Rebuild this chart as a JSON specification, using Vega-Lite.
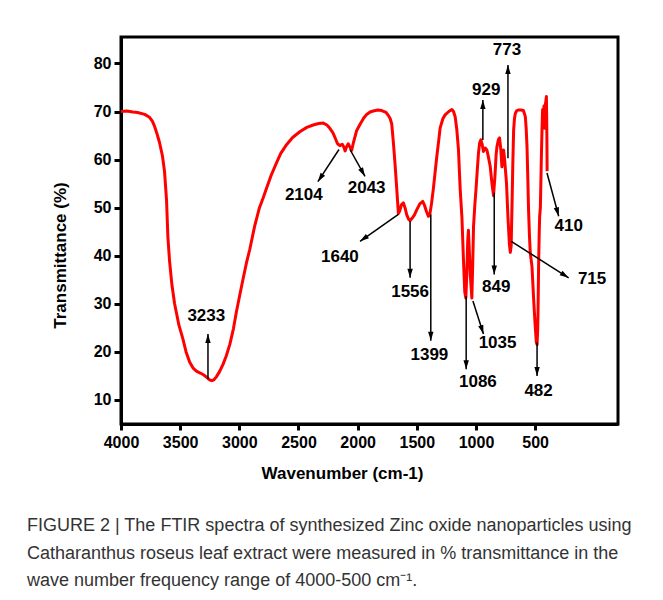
{
  "$schema": "https://vega.github.io/schema/vega-lite/v6.json",
  "width": 497,
  "height": 387,
  "autosize": {"type": "none"},
  "padding": {"left": 121, "top": 37, "right": 45, "bottom": 176},
  "background": "white",
  "config": {
    "font": "Liberation Sans",
    "view": {"stroke": "black", "strokeWidth": 3},
    "axis": {
      "domainColor": "black", "domainWidth": 3, "tickColor": "black", "tickWidth": 3,
      "labelFont": "Liberation Sans", "labelFontWeight": "bold", "labelColor": "black",
      "titleFont": "Liberation Sans", "titleFontWeight": "bold", "titleColor": "black",
      "grid": false
    }
  },
  "title": {
    "text": [
      "FIGURE 2 | The FTIR spectra of synthesized Zinc oxide nanoparticles using",
      "Catharanthus roseus leaf extract were measured in % transmittance in the",
      "wave number frequency range of 4000-500 cm⁻¹."
    ],
    "orient": "bottom", "anchor": "start", "frame": "group", "dx": -94, "offset": 36,
    "font": "Liberation Sans", "fontSize": 18, "fontWeight": "normal", "color": "#333333",
    "lineHeight": 27.5, "baseline": "top"
  },
  "datasets": {
    "spectrum": [
      {"w":4000,"t":70.0},{"w":3950,"t":70.1},{"w":3900,"t":69.9},{"w":3860,"t":69.8},{"w":3800,"t":69.4},
      {"w":3759,"t":68.8},{"w":3735,"t":68.0},{"w":3716,"t":66.9},{"w":3695,"t":65.3},{"w":3674,"t":63.5},
      {"w":3650,"t":60.8},{"w":3632,"t":57.5},{"w":3615,"t":51.5},{"w":3604,"t":44.0},{"w":3590,"t":39.0},
      {"w":3570,"t":34.0},{"w":3547,"t":30.0},{"w":3510,"t":25.5},{"w":3477,"t":22.7},{"w":3450,"t":20.0},
      {"w":3420,"t":17.9},{"w":3390,"t":16.6},{"w":3363,"t":16.0},{"w":3330,"t":15.6},{"w":3300,"t":15.2},
      {"w":3270,"t":14.6},{"w":3251,"t":14.2},{"w":3233,"t":14.0},{"w":3215,"t":14.2},{"w":3194,"t":14.8},
      {"w":3165,"t":16.0},{"w":3138,"t":17.4},{"w":3110,"t":19.2},{"w":3081,"t":21.5},{"w":3050,"t":24.8},
      {"w":3025,"t":28.3},{"w":2995,"t":32.0},{"w":2969,"t":35.1},{"w":2940,"t":38.5},{"w":2912,"t":41.3},
      {"w":2870,"t":46.2},{"w":2830,"t":50.0},{"w":2799,"t":52.0},{"w":2771,"t":54.0},{"w":2730,"t":56.8},
      {"w":2686,"t":59.3},{"w":2650,"t":61.3},{"w":2601,"t":63.1},{"w":2550,"t":64.6},{"w":2489,"t":65.8},
      {"w":2430,"t":66.7},{"w":2376,"t":67.2},{"w":2330,"t":67.5},{"w":2291,"t":67.6},{"w":2260,"t":67.2},
      {"w":2235,"t":66.5},{"w":2210,"t":65.6},{"w":2192,"t":64.6},{"w":2170,"t":63.3},{"w":2150,"t":62.9},
      {"w":2130,"t":63.2},{"w":2115,"t":62.5},{"w":2106,"t":61.8},{"w":2095,"t":62.6},{"w":2080,"t":63.3},
      {"w":2065,"t":62.6},{"w":2051,"t":61.9},{"w":2037,"t":63.4},{"w":2020,"t":65.0},{"w":2009,"t":66.0},
      {"w":1981,"t":67.3},{"w":1950,"t":68.6},{"w":1924,"t":69.4},{"w":1895,"t":69.9},{"w":1868,"t":70.1},
      {"w":1830,"t":70.3},{"w":1797,"t":70.2},{"w":1760,"t":69.8},{"w":1741,"t":69.2},{"w":1725,"t":68.5},
      {"w":1712,"t":67.4},{"w":1698,"t":63.5},{"w":1684,"t":59.0},{"w":1670,"t":54.0},{"w":1656,"t":48.8},
      {"w":1645,"t":49.3},{"w":1630,"t":50.6},{"w":1614,"t":51.0},{"w":1600,"t":50.0},{"w":1585,"t":48.5},
      {"w":1570,"t":47.6},{"w":1557,"t":47.3},{"w":1540,"t":47.8},{"w":1520,"t":48.5},{"w":1500,"t":49.6},
      {"w":1475,"t":50.8},{"w":1450,"t":51.3},{"w":1435,"t":50.5},{"w":1420,"t":49.3},{"w":1402,"t":48.2},
      {"w":1390,"t":48.6},{"w":1375,"t":51.0},{"w":1360,"t":54.0},{"w":1345,"t":57.5},{"w":1331,"t":60.7},
      {"w":1315,"t":64.0},{"w":1303,"t":66.6},{"w":1280,"t":68.5},{"w":1261,"t":69.3},{"w":1230,"t":70.0},
      {"w":1204,"t":70.4},{"w":1190,"t":70.0},{"w":1176,"t":68.9},{"w":1162,"t":66.2},{"w":1148,"t":62.0},
      {"w":1134,"t":54.0},{"w":1119,"t":48.0},{"w":1106,"t":39.2},{"w":1095,"t":32.5},{"w":1086,"t":31.2},
      {"w":1078,"t":36.0},{"w":1070,"t":43.0},{"w":1064,"t":45.3},{"w":1058,"t":42.0},{"w":1048,"t":36.0},
      {"w":1035,"t":31.2},{"w":1028,"t":38.0},{"w":1021,"t":46.0},{"w":1010,"t":50.5},{"w":1000,"t":53.8},
      {"w":990,"t":57.5},{"w":979,"t":61.4},{"w":969,"t":63.5},{"w":959,"t":64.1},{"w":948,"t":63.2},
      {"w":937,"t":61.7},{"w":922,"t":62.4},{"w":908,"t":62.0},{"w":895,"t":60.5},{"w":880,"t":58.6},
      {"w":865,"t":55.0},{"w":852,"t":52.5},{"w":840,"t":56.5},{"w":830,"t":61.0},{"w":823,"t":62.7},
      {"w":810,"t":64.2},{"w":801,"t":64.5},{"w":790,"t":62.0},{"w":781,"t":58.5},{"w":774,"t":60.5},
      {"w":767,"t":62.0},{"w":758,"t":60.0},{"w":750,"t":57.5},{"w":742,"t":55.0},{"w":730,"t":48.0},
      {"w":718,"t":42.5},{"w":710,"t":40.7},{"w":703,"t":42.0},{"w":696,"t":50.0},{"w":689,"t":59.0},
      {"w":682,"t":66.2},{"w":675,"t":68.5},{"w":668,"t":69.6},{"w":655,"t":70.2},{"w":643,"t":70.3},
      {"w":620,"t":70.3},{"w":600,"t":70.2},{"w":590,"t":69.5},{"w":583,"t":68.9},{"w":576,"t":66.5},
      {"w":569,"t":62.7},{"w":562,"t":56.0},{"w":556,"t":49.6},{"w":548,"t":44.0},{"w":541,"t":40.5},
      {"w":527,"t":37.8},{"w":513,"t":31.0},{"w":500,"t":25.5},{"w":490,"t":22.0},{"w":484,"t":21.5},
      {"w":479,"t":24.5},{"w":476,"t":28.0},{"w":471,"t":37.8},{"w":466,"t":44.5},{"w":462,"t":48.2},
      {"w":456,"t":50.0},{"w":448,"t":60.0},{"w":442,"t":66.5},{"w":437,"t":70.4},{"w":431,"t":68.8},
      {"w":425,"t":71.2},{"w":419,"t":66.5},{"w":413,"t":71.5},{"w":405,"t":73.1},{"w":401,"t":65.0},
      {"w":399,"t":57.6}
    ],
    "peaks": [
      {"label":"3233","x1":3265,"y1":14.3,"x2":3265,"y2":23.7,"lx":3279,"ly":27.5},
      {"label":"2104","x1":2158,"y1":62.1,"x2":2336,"y2":55.4,"lx":2455,"ly":52.7},
      {"label":"2043","x1":2065,"y1":62.1,"x2":1938,"y2":56.5,"lx":1924,"ly":54.1},
      {"label":"1640","x1":1656,"y1":48.6,"x2":1980,"y2":43.0,"lx":2150,"ly":39.8},
      {"label":"1556","x1":1557,"y1":47.2,"x2":1557,"y2":35.4,"lx":1557,"ly":32.4},
      {"label":"1399","x1":1382,"y1":48.6,"x2":1382,"y2":22.3,"lx":1394,"ly":19.3},
      {"label":"1086","x1":1083,"y1":31.6,"x2":1083,"y2":16.4,"lx":984,"ly":13.7},
      {"label":"1035","x1":1026,"y1":30.6,"x2":937,"y2":23.7,"lx":818,"ly":21.8},
      {"label":"849","x1":846,"y1":53.1,"x2":846,"y2":36.1,"lx":829,"ly":33.4},
      {"label":"929","x1":942,"y1":64.1,"x2":942,"y2":72.4,"lx":914,"ly":74.5},
      {"label":"773","x1":730,"y1":60.3,"x2":730,"y2":79.7,"lx":738,"ly":82.7},
      {"label":"715","x1":702,"y1":43.0,"x2":217,"y2":35.4,"lx":19,"ly":35.1},
      {"label":"410","x1":400,"y1":57.2,"x2":301,"y2":48.2,"lx":217,"ly":46.1},
      {"label":"482","x1":484,"y1":22.0,"x2":484,"y2":15.0,"lx":471,"ly":11.9}
    ]
  },
  "encoding": {},
  "layer": [
    {
      "data": {"name": "spectrum"},
      "mark": {"type": "line", "color": "#ff0000", "strokeWidth": 3, "strokeJoin": "round", "clip": true},
      "encoding": {
        "x": {
          "field": "w", "type": "quantitative",
          "scale": {"domain": [4000, -200], "nice": false, "zero": false},
          "axis": {
            "values": [4000, 3500, 3000, 2500, 2000, 1500, 1000, 500], "format": "d",
            "title": "Wavenumber (cm-1)", "titleFontSize": 17,
            "titleX": 221, "titleY": 49, "titleBaseline": "middle",
            "labelFontSize": 16, "tickSize": 6, "labelPadding": 4, "labelFlush": false
          }
        },
        "y": {
          "field": "t", "type": "quantitative",
          "scale": {"domain": [5, 85.5], "nice": false, "zero": false},
          "axis": {
            "values": [10, 20, 30, 40, 50, 60, 70, 80],
            "title": "Transmittance (%)", "titleFontSize": 17,
            "titleX": -61, "titleY": 218, "titleAngle": -90, "titleBaseline": "middle", "titleAlign": "center",
            "labelFontSize": 16, "tickSize": 7, "labelPadding": 3
          }
        }
      }
    },
    {
      "data": {"name": "peaks"},
      "mark": {"type": "rule", "color": "black", "strokeWidth": 1.5},
      "encoding": {
        "x": {"field": "x1", "type": "quantitative"},
        "y": {"field": "y1", "type": "quantitative"},
        "x2": {"field": "x2"},
        "y2": {"field": "y2"}
      }
    },
    {
      "data": {"name": "peaks"},
      "transform": [
        {"calculate": "atan2(-(datum.x2 - datum.x1) * 0.11833, (datum.y2 - datum.y1) * 4.807) * 180 / PI", "as": "ang"}
      ],
      "mark": {"type": "point", "shape": "M0,0L-2.7,9L2.7,9Z", "size": 4, "filled": true, "color": "black", "opacity": 1},
      "encoding": {
        "x": {"field": "x2", "type": "quantitative"},
        "y": {"field": "y2", "type": "quantitative"},
        "angle": {"field": "ang", "type": "quantitative", "scale": null}
      }
    },
    {
      "data": {"name": "peaks"},
      "mark": {"type": "text", "font": "Liberation Sans", "fontSize": 17, "fontWeight": "bold", "color": "black", "align": "center", "baseline": "middle"},
      "encoding": {
        "x": {"field": "lx", "type": "quantitative"},
        "y": {"field": "ly", "type": "quantitative"},
        "text": {"field": "label"}
      }
    }
  ]
}
